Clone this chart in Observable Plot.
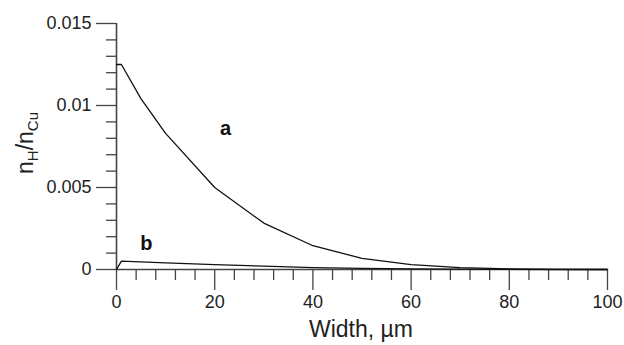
<!DOCTYPE html>
<html>
<head>
<meta charset="utf-8">
<script src="https://cdn.jsdelivr.net/npm/d3@7"></script>
<script src="https://cdn.jsdelivr.net/npm/@observablehq/plot@0.6"></script>
<style>
  html, body { margin: 0; padding: 0; background: #fff; }
  #chart svg { display: block; }
</style>
</head>
<body>
<div id="chart"></div>
<script>
// Curve a
const xA = [0, 1, 5, 10, 20, 30, 40, 50, 60, 70, 80, 90, 100];
const yA = [0.0125, 0.0125, 0.0104, 0.0083, 0.0050, 0.00283, 0.00145, 0.00068, 0.0003, 0.00011, 0.00004, 0.00001, 0];
// Curve b
const xB = [0, 1, 10, 20, 30, 40, 50, 60, 70, 80, 90, 100];
const yB = [0, 0.00051, 0.0004, 0.0003, 0.0002, 0.00012, 0.00007, 0.00004, 0.00002, 0.00001, 0, 0];
// Tick values and labels
const xMajor = [0, 20, 40, 60, 80, 100];
const xMinor = [4, 8, 12, 16, 24, 28, 32, 36, 44, 48, 52, 56, 64, 68, 72, 76, 84, 88, 92, 96];
const yMajor = [0, 0.005, 0.01, 0.015];
const yMajorLabels = ["0", "0.005", "0.01", "0.015"];
const yMinor = [0.001, 0.002, 0.003, 0.004, 0.006, 0.007, 0.008, 0.009, 0.011, 0.012, 0.013, 0.014];
const curveLabels = [{x: 22.2, y: 0.0086, t: "a"}, {x: 6.1, y: 0.00157, t: "b"}];

const A = xA.map((x, i) => ({x, y: yA[i]}));
const B = xB.map((x, i) => ({x, y: yB[i]}));
const axisColor = "#444";

const plot = Plot.plot({
  width: 624,
  height: 345,
  marginLeft: 116,
  marginRight: 17,
  marginTop: 23,
  marginBottom: 76,
  style: {fontFamily: "'Liberation Sans', Arial, sans-serif", fontSize: "18px", color: "#222", background: "#fff"},
  x: {domain: [0, 100]},
  y: {domain: [0, 0.015]},
  marks: [
    Plot.axisY({ticks: yMajor, tickSize: 20, tickPadding: 5, fontSize: 18, tickFormat: (d) => yMajorLabels[yMajor.indexOf(d)], stroke: axisColor, strokeWidth: 1.3, label: null}),
    Plot.axisY({ticks: yMinor, tickSize: 10, text: null, stroke: axisColor, strokeWidth: 1.3, label: null}),
    Plot.axisX({ticks: xMajor, tickSize: 21, tickPadding: 5, fontSize: 18, tickFormat: d => String(d), stroke: axisColor, strokeWidth: 1.3, label: null}),
    Plot.axisX({ticks: xMinor, tickSize: 11, text: null, stroke: axisColor, strokeWidth: 1.3, label: null}),
    Plot.ruleX([0], {y1: 0, y2: 0.015, stroke: axisColor, strokeWidth: 1.6}),
    Plot.ruleY([0], {x1: 0, x2: 100, stroke: axisColor, strokeWidth: 1.6}),
    Plot.line(A, {x: "x", y: "y", stroke: "#111", strokeWidth: 1.3}),
    Plot.line(B, {x: "x", y: "y", stroke: "#111", strokeWidth: 1.3}),
    Plot.text(curveLabels, {x: "x", y: "y", text: "t", fontSize: 20, fontWeight: "bold", fill: "#111"})
  ]
});

const svg = d3.select(plot);
svg.selectAll("text").filter(function() { return /^[0-9.]+$/.test(this.textContent); }).style("font-size", "18px");
// x title
svg.append("text")
  .attr("x", 361).attr("y", 337)
  .attr("text-anchor", "middle")
  .style("font-size", "23px")
  .attr("fill", "#222")
  .text("Width, µm");
// y title with subscripts
const yt = svg.append("text")
  .attr("transform", "translate(33,143) rotate(-90)")
  .attr("text-anchor", "middle")
  .style("font-size", "23px")
  .attr("fill", "#222");
yt.append("tspan").text("n");
yt.append("tspan").style("font-size", "15px").attr("dy", 5).text("H");
yt.append("tspan").attr("dy", -5).text("/n");
yt.append("tspan").style("font-size", "15px").attr("dy", 5).text("Cu");

document.getElementById("chart").appendChild(plot);
</script>
</body>
</html>
